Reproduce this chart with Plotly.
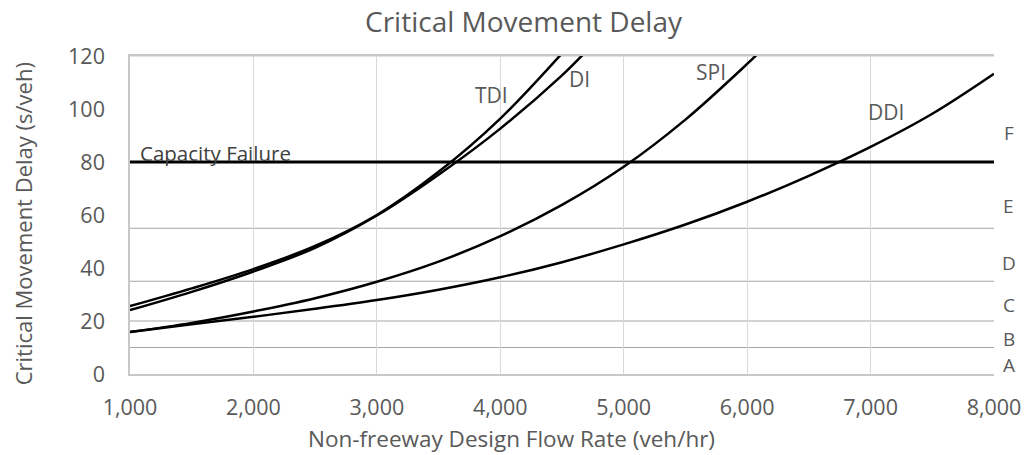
import plotly.graph_objects as go

# ---- data ----
tdi_x = [1000, 1500, 2000, 2500, 3000, 3500, 4000, 4500]
tdi_y = [25.6, 32.3, 39.6, 48.3, 60.0, 76.3, 96.4, 121.0]
di_x = [1000, 1500, 2000, 2500, 3000, 3500, 4000, 4500, 4700]
di_y = [24.1, 31.0, 38.7, 47.6, 59.8, 75.2, 92.6, 112.7, 122.0]
spi_x = [1000, 1500, 2000, 2500, 3000, 3500, 4000, 4500, 5000, 5500, 6000, 6100]
spi_y = [15.8, 19.3, 23.6, 28.6, 34.8, 42.4, 52.0, 63.8, 78.2, 96.0, 117.0, 121.5]
ddi_x = [1000, 1500, 2000, 2500, 3000, 3500, 4000, 4500, 5000, 5500, 6000, 6500, 7000, 7500, 8000]
ddi_y = [15.8, 18.8, 21.6, 24.6, 27.9, 31.8, 36.5, 42.2, 48.9, 56.4, 65.0, 74.8, 85.7, 98.2, 113.3]
capacity_x = [1000, 8000]
capacity_y = [80, 80]

los_bounds = [10, 20, 35, 55]
los_letters = ["A", "B", "C", "D", "E", "F"]
los_label_y = [3.3, 13.3, 26.0, 41.8, 63.5, 90.8]

curve_labels = ["TDI", "DI", "SPI", "DDI"]
curve_label_x = [3929, 4638, 5707, 7124]
curve_label_y = [105.2, 111.4, 113.9, 98.9]

x_ticks = [1000, 2000, 3000, 4000, 5000, 6000, 7000, 8000]
y_ticks = [0, 20, 40, 60, 80, 100, 120]

FONT = "Open Sans"
GRAY = "#595959"

fig = go.Figure()

for xs, ys, name in [(tdi_x, tdi_y, "TDI"), (di_x, di_y, "DI"), (spi_x, spi_y, "SPI"), (ddi_x, ddi_y, "DDI")]:
    fig.add_trace(go.Scatter(x=xs, y=ys, mode="lines", name=name,
                             line=dict(color="black", width=2.5, shape="spline", smoothing=1.0),
                             showlegend=False))

fig.add_trace(go.Scatter(x=capacity_x, y=capacity_y, mode="lines", name="Capacity Failure",
                         line=dict(color="black", width=3.2), showlegend=False))

shapes = []
for b in los_bounds:
    shapes.append(dict(type="line", xref="x", yref="y", x0=1000, x1=8000, y0=b, y1=b,
                       line=dict(color="#a6a6a6", width=1.2), layer="below"))
shapes.append(dict(type="line", xref="x", yref="y", x0=1000, x1=8000, y0=120, y1=120,
                   line=dict(color="#c8c8c8", width=1.2), layer="below"))

annotations = []
for t, x, y in zip(curve_labels, curve_label_x, curve_label_y):
    annotations.append(dict(text=t, x=x, y=y, xref="x", yref="y", showarrow=False,
                            font=dict(family=FONT, size=21, color=GRAY),
                            xanchor="center", yanchor="middle"))
for t, y in zip(los_letters, los_label_y):
    annotations.append(dict(text=t, x=1.0172, y=y, xref="paper", yref="y", showarrow=False,
                            font=dict(family=FONT, size=19, color=GRAY),
                            xanchor="center", yanchor="middle"))
annotations.append(dict(text="Capacity Failure", x=1067, y=80, xref="x", yref="y", showarrow=False,
                        font=dict(family=FONT, size=20.5, color="#404040"),
                        xanchor="left", yanchor="bottom", yshift=-7))
# axis titles (centred on the figure, as in the reference)
annotations.append(dict(text="Non-freeway Design Flow Rate (veh/hr)", x=0.441, y=-0.2033,
                        xref="paper", yref="paper", showarrow=False,
                        font=dict(family=FONT, size=22.5, color=GRAY),
                        xanchor="center", yanchor="middle"))
annotations.append(dict(text="Critical Movement Delay (s/veh)", x=-0.1239, y=0.4738,
                        xref="paper", yref="paper", showarrow=False, textangle=-90,
                        font=dict(family=FONT, size=22, color=GRAY),
                        xanchor="center", yanchor="middle"))

fig.update_layout(
    width=1033, height=455,
    margin=dict(l=130, r=31, t=56, b=81),
    paper_bgcolor="white", plot_bgcolor="white",
    title=dict(text="Critical Movement Delay", x=0.5068, xanchor="center",
               y=0.9508, yanchor="middle", yref="container",
               font=dict(family=FONT, size=28, color=GRAY)),
    shapes=shapes, annotations=annotations,
    font=dict(family=FONT, color=GRAY),
    hovermode=False,
)

fig.update_xaxes(range=[1000, 8000], tickvals=x_ticks, tickformat=",",
                 showgrid=True, gridcolor="#d9d9d9", gridwidth=1.2,
                 showline=True, linecolor="#c8c8c8", linewidth=1.5, mirror=True,
                 ticks="", zeroline=False, ticklabelstandoff=13,
                 tickfont=dict(family=FONT, size=21.5, color=GRAY))
fig.update_yaxes(range=[0, 120], tickvals=y_ticks, showgrid=False,
                 showline=True, linecolor="#c8c8c8", linewidth=1.5, mirror=False,
                 ticks="", zeroline=False, ticklabelstandoff=19,
                 tickfont=dict(family=FONT, size=21.5, color=GRAY))

# remove the page's default 8px body margin so the figure fills the window exactly
fig.write_html("out.html", config={"displayModeBar": False},
               post_script="document.body.style.margin='0';")
